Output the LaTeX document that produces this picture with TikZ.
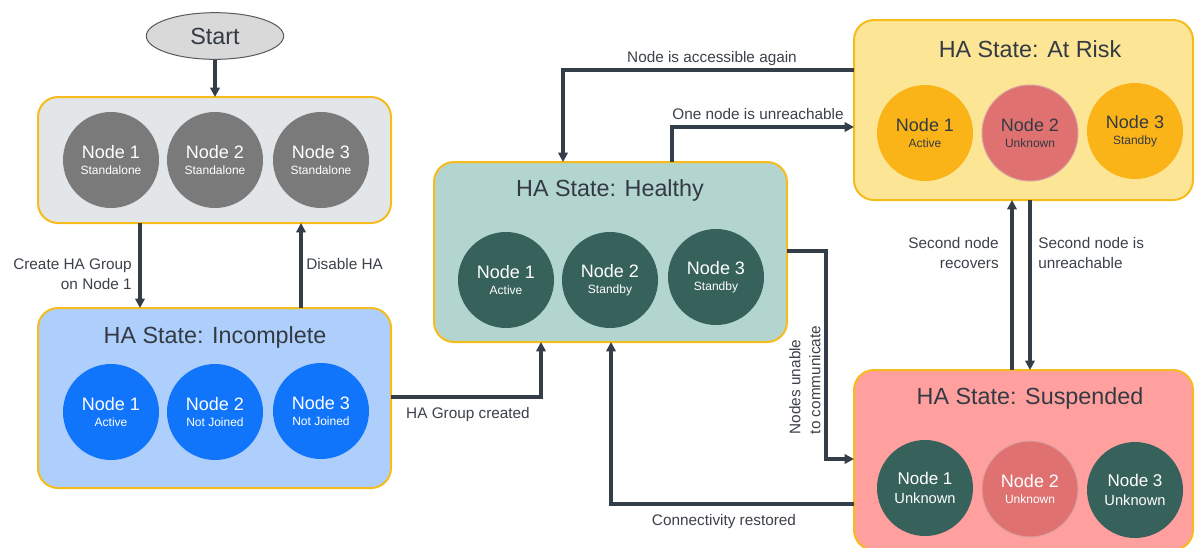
\documentclass[tikz,border=0pt]{standalone}
\usepackage{fontspec}
\setmainfont{Liberation Sans}
\usetikzlibrary{arrows.meta,shapes.geometric}
\definecolor{edgeY}{HTML}{F5BC1C}
\definecolor{lineC}{HTML}{343E48}
\definecolor{lblC}{HTML}{3B4149}
\definecolor{ttlC}{HTML}{333A42}
\definecolor{fillGray}{HTML}{E3E6E9}
\definecolor{circGray}{HTML}{7A7A7A}
\definecolor{fillBlue}{HTML}{AECFFC}
\definecolor{circBlue}{HTML}{1075FB}
\definecolor{fillTeal}{HTML}{B3D5CF}
\definecolor{circTeal}{HTML}{37625C}
\definecolor{fillYel}{HTML}{FDE596}
\definecolor{circOr}{HTML}{FBB418}
\definecolor{circRed}{HTML}{DF7171}
\definecolor{redEdge}{HTML}{D9A2A2}
\definecolor{fillPink}{HTML}{FFA09E}
\definecolor{startF}{HTML}{D9D9D9}
\newcommand\ndtxt[2]{{\fontsize{13.5}{12}\selectfont #1}\\#2}
\begin{document}
\begin{tikzpicture}[x=0.75pt,y=-0.75pt,
  box/.style={draw=edgeY, line width=1.5pt, rounded corners=15pt, inner sep=0pt, outer sep=0pt},
  circ/.style={circle, minimum size=72pt, inner sep=0pt, align=center, text=white, font=\fontsize{9}{12}\selectfont},
  arr/.style={draw=lineC, line width=2.3pt, -{Triangle[length=7pt,width=7pt]}},
  lbl/.style={text=lblC, font=\fontsize{11.5}{15}\selectfont, inner sep=0pt},
  ttl/.style={text=ttlC, font=\fontsize{17.5}{20}\selectfont, inner sep=0pt}]
\useasboundingbox (0,0) rectangle (1195,547);
\clip (0,0) rectangle (1195,547);

% Start
\node[ellipse, draw=black!65, line width=0.75pt, fill=startF, minimum width=103pt, minimum height=35pt, text=ttlC, font=\fontsize{17.5}{20}\selectfont] (start) at (215,36) {Start};

% Boxes
\node[box, fill=fillGray, minimum width=264.75pt, minimum height=94.5pt] (box1) at (214.5,160) {};
\node[box, fill=fillBlue, minimum width=264.75pt, minimum height=135pt] (box2) at (214.5,398) {};
\node[box, fill=fillTeal, minimum width=264.75pt, minimum height=135pt] (box3) at (610.5,252) {};
\node[box, fill=fillYel, minimum width=254.25pt, minimum height=135pt] (box4) at (1023.5,110) {};
\node[box, fill=fillPink, minimum width=254.25pt, minimum height=135pt] (box5) at (1023.5,460) {};

% Titles
\node[ttl] (t2) at (215,337) {HA State: Incomplete};
\node[ttl] (t3) at (610,190) {HA State: Healthy};
\node[ttl] (t4) at (1030,49) {HA State: At Risk};
\node[ttl] (t5) at (1030,398) {HA State: Suspended};

% Standalone circles
\node[circ, fill=circGray] (s1) at (111,160) {\ndtxt{Node 1}{Standalone}};
\node[circ, fill=circGray] (s2) at (215,160) {\ndtxt{Node 2}{Standalone}};
\node[circ, fill=circGray] (s3) at (321,160) {\ndtxt{Node 3}{Standalone}};

% Incomplete circles
\node[circ, fill=circBlue] (i1) at (111,412) {\ndtxt{Node 1}{Active}};
\node[circ, fill=circBlue] (i2) at (215,412) {\ndtxt{Node 2}{Not Joined}};
\node[circ, fill=circBlue] (i3) at (321,411) {\ndtxt{Node 3}{Not Joined}};

% Healthy circles
\node[circ, fill=circTeal] (h1) at (506,280) {\ndtxt{Node 1}{Active}};
\node[circ, fill=circTeal] (h2) at (610,280) {\ndtxt{Node 2}{Standby}};
\node[circ, fill=circTeal] (h3) at (716,277) {\ndtxt{Node 3}{Standby}};

% At Risk circles
\node[circ, fill=circOr, text=ttlC] (r1) at (925,133) {\ndtxt{Node 1}{Active}};
\node[circ, fill=circRed, draw=redEdge, line width=0.75pt, text=ttlC] (r2) at (1030,133) {\ndtxt{Node 2}{Unknown}};
\node[circ, fill=circOr, text=ttlC] (r3) at (1135,131) {\ndtxt{Node 3}{Standby}};

% Suspended circles
\node[circ, fill=circTeal, font=\fontsize{11}{14.5}\selectfont] (u1) at (925,488) {{\fontsize{12.75}{12}\selectfont Node 1}\\Unknown};
\node[circ, fill=circRed, draw=redEdge, line width=0.75pt] (u2) at (1030,489) {\ndtxt{Node 2}{Unknown}};
\node[circ, fill=circTeal, font=\fontsize{11}{14.5}\selectfont] (u3) at (1135,490) {{\fontsize{12.75}{12}\selectfont Node 3}\\Unknown};

% helper coordinates
\coordinate (xA) at (140,0);
\coordinate (xB) at (301,0);
\coordinate (yC) at (0,397);
\coordinate (xD) at (541,0);
\coordinate (k1) at (826,251);
\coordinate (yE) at (0,459);
\coordinate (yF) at (0,504);
\coordinate (xG) at (611,0);
\coordinate (xH) at (672,0);
\coordinate (yH) at (0,127);
\coordinate (yI) at (0,70);
\coordinate (xI) at (563,0);
\coordinate (xJ) at (1012,0);
\coordinate (xK) at (1030,0);

% Connectors
\draw[arr] (start.south) -- (box1.north -| start.south);
\draw[arr] (box1.south -| xA) -- (box2.north -| xA);
\draw[arr] (box2.north -| xB) -- (box1.south -| xB);
\draw[arr] (box2.east |- yC) -| (box3.south -| xD);
\draw[arr] (box3.east |- k1) -- (k1) |- (box5.west |- yE);
\draw[arr] (box5.west |- yF) -| (box3.south -| xG);
\draw[arr] (box3.north -| xH) |- (box4.west |- yH);
\draw[arr] (box4.west |- yI) -| (box3.north -| xI);
\draw[arr] (box5.north -| xJ) -- (box4.south -| xJ);
\draw[arr] (box4.south -| xK) -- (box5.north -| xK);

% Labels
\node[lbl, align=right, anchor=east] (lA) at (132,274) {Create HA Group\\on Node 1};
\node[lbl, anchor=west] (lB) at (306,264) {Disable HA};
\node[lbl] (lC) at (468,415) {HA Group created};
\node[lbl] (lI) at (712,59) {Node is accessible again};
\node[lbl] (lH) at (758,114) {One node is unreachable};
\node[lbl, align=right, anchor=east] (lJ) at (999,253) {Second node\\recovers};
\node[lbl, align=left, anchor=west] (lK) at (1038,253) {Second node is\\unreachable};
\node[lbl, align=left, rotate=90] (lE) at (805,380) {Nodes unable\\to communicate};
\node[lbl] (lF) at (724,522) {Connectivity restored};
\end{tikzpicture}
\end{document}
